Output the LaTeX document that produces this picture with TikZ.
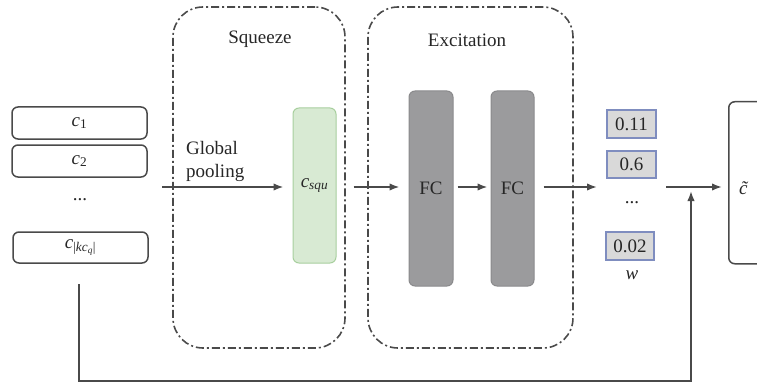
\documentclass[tikz,border=0pt]{standalone}
\usepackage{fontspec}
\setmainfont{Liberation Serif}
\usetikzlibrary{arrows.meta}
\definecolor{ln}{HTML}{4A4A4A}
\definecolor{greenfill}{HTML}{D8EAD3}
\definecolor{greenedge}{HTML}{A8CF9E}
\definecolor{fcfill}{HTML}{9B9B9D}
\definecolor{fcedge}{HTML}{8A8A8C}
\definecolor{wfill}{HTML}{D9D9D9}
\definecolor{wedge}{HTML}{7F8DBF}
\newcommand\vc{\textit{c}}
\tikzset{
  every node/.style={font=\fontsize{19}{22}\selectfont, text=black!85, inner sep=0pt},
  inbox/.style={draw=ln, line width=1.5pt, rounded corners=6pt, minimum width=135pt, minimum height=32pt},
  stage/.style={draw=ln, line width=1.6pt, dash pattern=on 8pt off 3pt on 2pt off 3pt, rounded corners=30pt},
  sqbox/.style={draw=greenedge, fill=greenfill, line width=1pt, rounded corners=6pt, minimum width=43pt, minimum height=155pt},
  fcbox/.style={draw=fcedge, fill=fcfill, line width=1pt, rounded corners=6pt, minimum width=44pt, minimum height=195pt},
  wbox/.style={draw=wedge, fill=wfill, line width=1.2pt, minimum width=49pt, minimum height=28pt},
  outbox/.style={draw=ln, line width=1.5pt, rounded corners=6pt},
  conn/.style={draw=ln, line width=1.8pt},
  arr/.style={conn, -{Latex[length=10pt,width=7.5pt]}},
}
\begin{document}
\begin{tikzpicture}[x=1pt,y=-1pt]
\useasboundingbox (0,0) rectangle (757,385);
% input boxes
\node[inbox] (c1) at (79.5,123) {\vc\textsubscript{1}};
\node[inbox] (c2) at (79.5,161) {\vc\textsubscript{2}};
\node (cd) at (80,200) {...};
\node[inbox, minimum height=31pt] (ck) at (80.5,247.5) {\vc\textsubscript{|\textit{kc}\textsubscript{\textit{q}}|}};
% stages
\node[stage, minimum width=172pt, minimum height=341pt] (sq) at (259,177.5) {};
\node (sqlab) at (260,39) {Squeeze};
\node[stage, minimum width=205pt, minimum height=341pt] (ex) at (470.5,177.5) {};
\node (exlab) at (467,40) {Excitation};
% blocks
\node[sqbox] (cs) at (314.5,185.5) {\vc\textsubscript{\textit{squ}}};
\node[fcbox] (fc1) at (431,188.5) {FC};
\node[fcbox, minimum width=43pt] (fc2) at (512.5,188.5) {FC};
\node[anchor=west, align=left, font=\fontsize{19}{23}\selectfont] (gp) at (186,161.5) {Global\\pooling};
% weights
\node[wbox] (w0) at (631.5,124) {0.11};
\node[wbox, minimum height=27pt] (w1) at (631.5,164.5) {0.6};
\node (wd) at (632,203) {...};
\node[wbox, minimum width=48pt] (w2) at (630,246) {0.02};
\node (wl) at (632,275) {\textit{w}};
% output box
\node[outbox, anchor=north west, minimum width=60pt, minimum height=162pt] (ct) at (728,101) {};
\node (ctl) at (747,188) {\textit{\~{c}}};
% connectors
\coordinate (gin) at (162,187);
\coordinate (wout) at (597,187);
\coordinate (win) at (666,187);
\coordinate (jn) at (691,187);
\coordinate (fb0) at (79,284);
\coordinate (fb1) at (79,381);
\draw[arr, shorten >=9pt] (gin) -- (cs.west |- gin);
\draw[arr, shorten <=17pt, shorten >=9pt] (cs.east |- gin) -- (fc1.west |- gin);
\draw[arr, shorten <=4pt, shorten >=3pt] (fc1.east |- gin) -- (fc2.west |- gin);
\draw[arr, shorten <=9pt] (fc2.east |- gin) -- (wout);
\draw[arr, shorten >=6pt] (win) -- (ct.west |- win);
\draw[arr, shorten >=4pt] (fb0) -- (fb1) -| (jn);
\end{tikzpicture}
\end{document}
